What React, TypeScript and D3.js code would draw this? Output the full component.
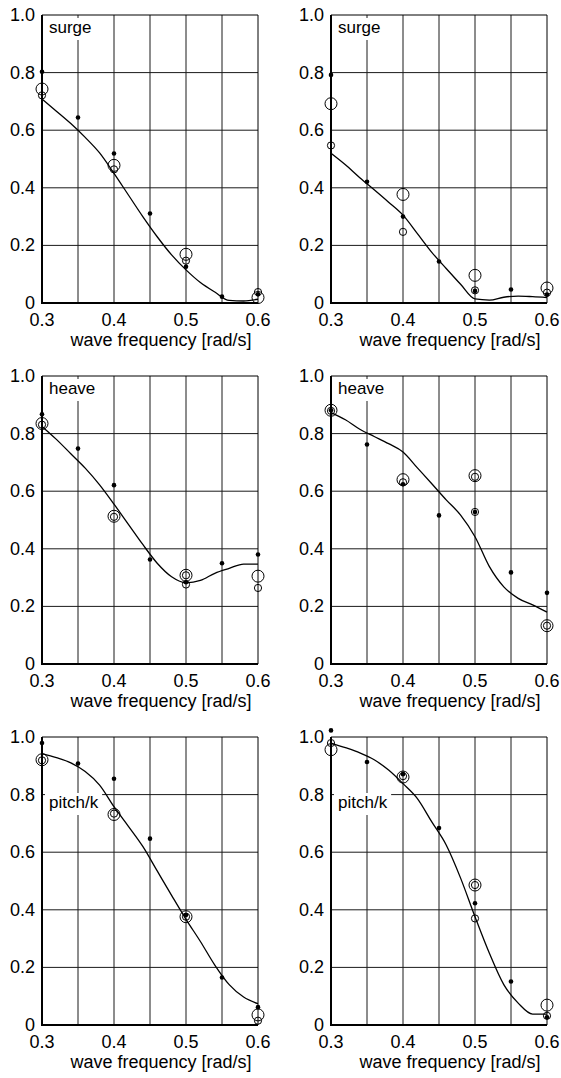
import React from "react";
import * as d3 from "d3";

// frequencies [rad/s]
const dotFreqs = [0.3, 0.35, 0.4, 0.45, 0.5, 0.55, 0.6];
const ringFreqs = [0.3, 0.4, 0.5, 0.6];
const curveFreqs = [0.3, 0.32, 0.34, 0.36, 0.38, 0.4, 0.42, 0.44, 0.46, 0.48, 0.5, 0.52, 0.54, 0.56, 0.58, 0.6];
const xTicks = [0.3, 0.4, 0.5, 0.6];
const yTicks = [0, 0.2, 0.4, 0.6, 0.8, 1.0];

// surge, left
const surgeLDots = [0.803, 0.644, 0.519, 0.311, 0.126, 0.022, 0.03];
const surgeLBig = [0.743, 0.478, 0.169, 0.019];
const surgeLSmallF = [0.3, 0.4, 0.5, 0.6];
const surgeLSmall = [0.721, 0.464, 0.147, 0.038];
const surgeLCurve = [0.708, 0.666, 0.623, 0.575, 0.521, 0.45, 0.375, 0.3, 0.23, 0.167, 0.115, 0.071, 0.038, 0.009, 0.007, 0.013];

// surge, right
const surgeRDots = [0.792, 0.421, 0.3, 0.144, 0.042, 0.047, 0.029];
const surgeRBig = [0.692, 0.377, 0.096, 0.052];
const surgeRSmallF = [0.3, 0.4, 0.5, 0.6];
const surgeRSmall = [0.547, 0.247, 0.044, 0.036];
const surgeRCurve = [0.52, 0.48, 0.435, 0.393, 0.35, 0.305, 0.241, 0.176, 0.12, 0.065, 0.014, 0.01, 0.02, 0.024, 0.022, 0.019];

// heave, left
const heaveLDots = [0.867, 0.748, 0.621, 0.363, 0.284, 0.35, 0.38];
const heaveLBig = [0.835, 0.513, 0.308, 0.305];
const heaveLSmallF = [0.3, 0.4, 0.5, 0.5, 0.6];
const heaveLSmall = [0.831, 0.511, 0.308, 0.276, 0.264];
const heaveLCurve = [0.825, 0.78, 0.73, 0.68, 0.622, 0.555, 0.485, 0.415, 0.35, 0.303, 0.282, 0.29, 0.315, 0.332, 0.347, 0.347];

// heave, right
const heaveRDots = [0.881, 0.762, 0.624, 0.516, 0.528, 0.318, 0.247];
const heaveRBig = [0.881, 0.64, 0.654, 0.133];
const heaveRSmallF = [0.3, 0.4, 0.5, 0.5, 0.6];
const heaveRSmall = [0.879, 0.631, 0.65, 0.528, 0.133];
const heaveRCurve = [0.873, 0.848, 0.815, 0.79, 0.765, 0.736, 0.681, 0.626, 0.57, 0.517, 0.442, 0.338, 0.268, 0.228, 0.205, 0.18];

// pitch/k, left
const pitchLDots = [0.979, 0.908, 0.855, 0.647, 0.382, 0.165, 0.062];
const pitchLBig = [0.921, 0.731, 0.376, 0.035];
const pitchLSmallF = [0.3, 0.4, 0.5, 0.6];
const pitchLSmall = [0.919, 0.734, 0.376, 0.015];
const pitchLCurve = [0.942, 0.928, 0.91, 0.88, 0.833, 0.758, 0.69, 0.62, 0.535, 0.45, 0.367, 0.29, 0.208, 0.14, 0.097, 0.074];

// pitch/k, right
const pitchRDots = [1.023, 0.913, 0.871, 0.684, 0.423, 0.151, 0.027];
const pitchRBig = [0.956, 0.861, 0.486, 0.069];
const pitchRSmallF = [0.3, 0.4, 0.5, 0.5, 0.6];
const pitchRSmall = [0.979, 0.864, 0.486, 0.37, 0.032];
const pitchRCurve = [0.979, 0.963, 0.945, 0.921, 0.885, 0.838, 0.786, 0.705, 0.625, 0.51, 0.376, 0.249, 0.14, 0.076, 0.038, 0.038];

const FONT = "'Liberation Sans', Arial, Helvetica, sans-serif";
const W = 216;
const H = 288;

let ctx: CanvasRenderingContext2D | null = null;
function textWidth(s: string, size: number) {
  if (!ctx) ctx = document.createElement("canvas").getContext("2d");
  if (!ctx) return s.length * size * 0.5;
  ctx.font = `${size}px ${FONT}`;
  return ctx.measureText(s).width;
}

function Panel({ x0, y0, label, labelLow, dots, big, smallF, small, curve }) {
  const x = d3.scaleLinear().domain([0.3, 0.6]).range([x0, x0 + W]);
  const y = d3.scaleLinear().domain([0, 1]).range([y0 + H, y0]);
  const line = d3
    .line<number>()
    .x((d, i) => x(curveFreqs[i]))
    .y((d) => y(d))
    .curve(d3.curveMonotoneX);

  const vGrid = d3.range(0.35, 0.58, 0.05);
  const hGrid = [0.2, 0.4, 0.6, 0.8];
  const lw = textWidth(label, 17);
  const lBase = labelLow ? y0 + 71 : y0 + 18;

  return (
    <g>
      {vGrid.map((f) => (
        <line key={"v" + f} x1={x(f)} x2={x(f)} y1={y0} y2={y0 + H} stroke="#1a1a1a" strokeWidth={1} />
      ))}
      {hGrid.map((v) => (
        <line key={"h" + v} x1={x0} x2={x0 + W} y1={y(v)} y2={y(v)} stroke="#1a1a1a" strokeWidth={1} />
      ))}
      <line x1={x0} x2={x0 + W} y1={y0} y2={y0} stroke="#000" strokeWidth={1} />
      <line x1={x0 + W} x2={x0 + W} y1={y0} y2={y0 + H} stroke="#000" strokeWidth={1} />
      <line x1={x0} x2={x0} y1={y0} y2={y0 + H + 1} stroke="#000" strokeWidth={2} />
      <line x1={x0 - 1} x2={x0 + W} y1={y0 + H} y2={y0 + H} stroke="#000" strokeWidth={2} />

      <rect x={x0 + 3} y={lBase - 15} width={lw + 8} height={22} fill="#fff" />
      <text x={x0 + 7} y={lBase} fontSize={17} fontFamily={FONT} fill="#000">
        {label}
      </text>

      <path d={line(curve) || ""} fill="none" stroke="#000" strokeWidth={1.3} />

      {dots.map((v, i) => (
        <circle key={"d" + i} cx={x(dotFreqs[i])} cy={y(v)} r={2.3} fill="#000" />
      ))}
      {big.map((v, i) => (
        <circle key={"b" + i} cx={x(ringFreqs[i])} cy={y(v)} r={6} fill="none" stroke="#000" strokeWidth={1} />
      ))}
      {small.map((v, i) => (
        <circle key={"s" + i} cx={x(smallF[i])} cy={y(v)} r={3.6} fill="none" stroke="#000" strokeWidth={1} />
      ))}

      {yTicks.map((t) => (
        <text
          key={"yt" + t}
          x={x0 - 7}
          y={y(t) + 6}
          textAnchor="end"
          fontSize={18}
          fontFamily={FONT}
          fill="#000"
        >
          {t === 0 ? "0" : t.toFixed(1)}
        </text>
      ))}
      {xTicks.map((t) => (
        <text
          key={"xt" + t}
          x={x(t)}
          y={y0 + H + 23}
          textAnchor="middle"
          fontSize={18}
          fontFamily={FONT}
          fill="#000"
        >
          {t.toFixed(1)}
        </text>
      ))}
      <text x={x0 + W / 2 + 11} y={y0 + H + 43} textAnchor="middle" fontSize={18} fontFamily={FONT} fill="#000">
        wave frequency [rad/s]
      </text>
    </g>
  );
}

export default function App() {
  const cols = [42, 331];
  const rows = [15, 376, 737];
  return (
    <div style={{ position: "absolute", left: 0, top: 0 }}>
      <svg width={561} height={1078} style={{ display: "block", background: "#fff" }}>
        <Panel x0={cols[0]} y0={rows[0]} label="surge" labelLow={false} dots={surgeLDots} big={surgeLBig} smallF={surgeLSmallF} small={surgeLSmall} curve={surgeLCurve} />
        <Panel x0={cols[1]} y0={rows[0]} label="surge" labelLow={false} dots={surgeRDots} big={surgeRBig} smallF={surgeRSmallF} small={surgeRSmall} curve={surgeRCurve} />
        <Panel x0={cols[0]} y0={rows[1]} label="heave" labelLow={false} dots={heaveLDots} big={heaveLBig} smallF={heaveLSmallF} small={heaveLSmall} curve={heaveLCurve} />
        <Panel x0={cols[1]} y0={rows[1]} label="heave" labelLow={false} dots={heaveRDots} big={heaveRBig} smallF={heaveRSmallF} small={heaveRSmall} curve={heaveRCurve} />
        <Panel x0={cols[0]} y0={rows[2]} label="pitch/k" labelLow={true} dots={pitchLDots} big={pitchLBig} smallF={pitchLSmallF} small={pitchLSmall} curve={pitchLCurve} />
        <Panel x0={cols[1]} y0={rows[2]} label="pitch/k" labelLow={true} dots={pitchRDots} big={pitchRBig} smallF={pitchRSmallF} small={pitchRSmall} curve={pitchRCurve} />
      </svg>
    </div>
  );
}
